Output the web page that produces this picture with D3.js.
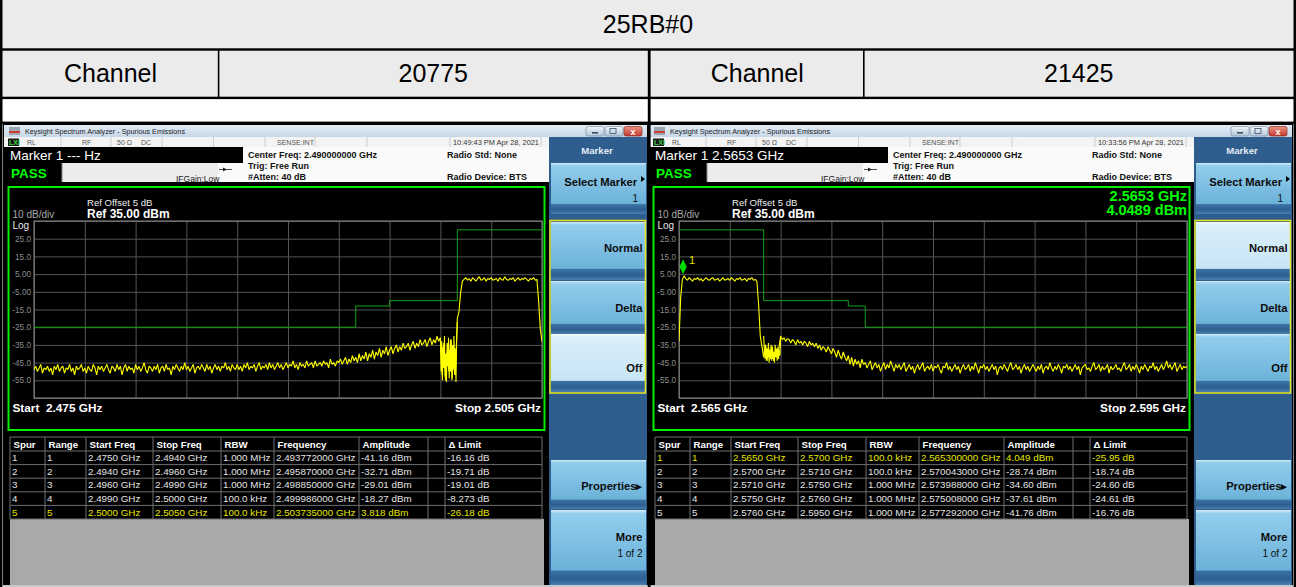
<!DOCTYPE html>
<html><head><meta charset="utf-8">
<script src="https://cdn.jsdelivr.net/npm/d3@7"></script>
<style>
html,body{margin:0;padding:0;background:#fff;}
svg{display:block;font-family:"Liberation Sans",Arial,sans-serif;}
text{white-space:pre;}
</style></head><body>
<svg id="c" width="1296" height="587"></svg>
<script>
// ---------------- data ----------------
const tableTitle = "25RB#0";
const channelLabels = ["Channel", "Channel"];
const channelValues = ["20775", "21425"];

const windowTitle = "Keysight Spectrum Analyzer - Spurious Emissions";
const timestamps = ["10:49:43 PM Apr 28, 2021", "10:33:56 PM Apr 28, 2021"];
const markerTexts = ["Marker 1 --- Hz", "Marker 1 2.5653 GHz"];
const infoLeft = ["Center Freq: 2.490000000 GHz", "Trig: Free Run", "#Atten: 40 dB"];
const infoRight = ["Radio Std: None", "", "Radio Device: BTS"];

const leftSpan = [2.475, 2.505];
const rightSpan = [2.565, 2.595];
const startLabels = ["Start  2.475 GHz", "Start  2.565 GHz"];
const stopLabels = ["Stop 2.505 GHz", "Stop 2.595 GHz"];

const yGridValues = [35, 25, 15, 5, -5, -15, -25, -35, -45, -55, -65];
const yTickLabels = ["", "25.0", "15.0", "5.00", "-5.00", "-15.0", "-25.0", "-35.0", "-45.0", "-55.0", ""];

// limit line ranges (GHz) and limits (dBm)
const leftLimitStart = [2.475, 2.494, 2.496, 2.499, 2.500];
const leftLimitStop  = [2.494, 2.496, 2.499, 2.500, 2.505];
const leftLimitValue = [-25, -13, -10, -10, 30];
const rightLimitStart = [2.565, 2.570, 2.571, 2.575, 2.576];
const rightLimitStop  = [2.570, 2.571, 2.575, 2.576, 2.595];
const rightLimitValue = [30, -10, -10, -13, -25];

// traces (dBm), 0.1 MHz per point across the span
const leftTrace = [
-49,-47,-50,-48,-46,-51,-48,-49,-47,-50,
-48,-52,-47,-49,-46,-50,-48,-47,-51,-48,
-49,-46,-50,-48,-52,-47,-49,-48,-46,-50,
-48,-51,-47,-49,-50,-46,-48,-52,-47,-49,
-47,-50,-48,-46,-49,-51,-47,-48,-50,-46,
-49,-47,-52,-48,-46,-50,-47,-49,-48,-51,
-46,-49,-47,-50,-48,-45,-49,-51,-47,-48,
-50,-47,-49,-46,-51,-48,-47,-50,-46,-49,
-48,-52,-47,-49,-46,-48,-50,-47,-49,-45,
-49,-47,-50,-48,-46,-51,-48,-47,-49,-46,
-48,-50,-46,-49,-47,-51,-48,-46,-49,-47,
-50,-47,-48,-45,-49,-47,-50,-46,-48,-49,
-46,-49,-47,-50,-46,-48,-45,-49,-47,-48,
-46,-50,-47,-45,-49,-47,-48,-46,-49,-45,
-48,-46,-49,-47,-45,-48,-46,-49,-47,-45,
-48,-46,-47,-44,-48,-46,-49,-45,-47,-46,
-48,-44,-47,-46,-45,-48,-44,-47,-46,-45,
-47,-44,-46,-45,-48,-43,-46,-45,-47,-44,
-45,-43,-46,-44,-42,-46,-43,-45,-41,-44,
-42,-45,-40,-44,-41,-43,-39,-44,-40,-42,
-38,-43,-39,-41,-37,-42,-38,-40,-36,-41,
-38,-36,-40,-37,-35,-39,-36,-38,-34,-37,
-36,-34,-38,-35,-33,-37,-34,-36,-32,-35,
-34,-32,-36,-33,-31,-35,-32,-34,-30,-33,
-31,-52,-34,-55,-38,-50,-32,-54,-36,-47,
-20,-16,-5,1,2,3,1.5,2.5,1,3,
2,1,2.5,3.5,1.5,2,3,1,2.5,2,
3,1.5,2,2.5,1,3,2,1.5,3.5,2,
1.5,2.5,2,3,1,2,3,1.5,2.5,2,
3,2,1,2.5,2,3,1.5,2,-10,-26,
-33];

// finer 100 kHz-RBW sweep segment, 2.4990-2.5000 GHz (0.04 MHz per point)
const leftFineSpan = [2.4990, 2.5000];
const leftFineTrace = [-31,-50,-33,-55,-36,-48,-30,-53,-40,-56,-34,-47,-31,-54,-38,-50,-32,-55,-35,-49,-30,-52,-37,-56,-33,-22];

const rightTrace = [
-33,-8,2,4,2.5,1.5,3,2,1,2.5,
2,3,1.5,2.5,1,2,3,2,1.5,2.5,
3,1.5,2,2.5,1,2,3,1.5,2,2.5,
1.5,3,2,1,2.5,2,3,1.5,2,2.5,
1,2.5,2,3,1.5,2,1,-12,-30,-36,
-42,-35,-44,-37,-43,-36,-44,-38,-42,-37,
-30,-32,-31,-33,-31.5,-32,-34,-32,-33,-35,
-32,-34,-33,-35,-33,-34,-36,-33,-35,-34,
-36,-34,-37,-35,-38,-36,-37,-39,-36,-38,
-40,-37,-39,-42,-38,-41,-43,-39,-42,-44,
-41,-46,-42,-47,-43,-46,-44,-48,-43,-46,
-45,-48,-46,-44,-49,-47,-45,-48,-46,-50,
-47,-45,-49,-46,-48,-44,-47,-50,-46,-48,
-46,-49,-47,-45,-50,-48,-46,-49,-47,-51,
-48,-46,-49,-47,-45,-50,-48,-47,-49,-46,
-50,-47,-48,-46,-49,-51,-47,-48,-45,-49,
-47,-50,-48,-46,-49,-47,-51,-48,-46,-49,
-48,-46,-50,-47,-49,-45,-48,-51,-47,-48,
-46,-49,-47,-50,-48,-46,-49,-47,-52,-48,
-47,-49,-46,-48,-50,-47,-45,-49,-48,-46,
-49,-47,-51,-48,-46,-49,-47,-50,-48,-46,
-48,-50,-47,-49,-46,-51,-48,-47,-49,-45,
-48,-50,-47,-49,-46,-48,-51,-47,-48,-46,
-49,-47,-50,-48,-46,-49,-47,-52,-48,-47,
-46,-49,-48,-50,-47,-45,-49,-48,-46,-50,
-47,-49,-48,-46,-51,-47,-49,-48,-46,-49,
-48,-50,-47,-45,-49,-48,-46,-50,-47,-49,
-46,-48,-51,-47,-49,-46,-48,-50,-47,-48,
-45,-49,-47,-50,-48,-46,-49,-47,-44,-48,
-46,-49,-47,-45,-50,-48,-46,-49,-47,-48,
-47];

// finer 100 kHz-RBW sweep segment, 2.5700-2.5710 GHz (0.04 MHz per point)
const rightFineSpan = [2.5700, 2.5710];
const rightFineTrace = [-30,-38,-43,-35,-44,-37,-42,-34,-45,-38,-41,-35,-44,-36,-43,-39,-45,-35,-42,-37,-44,-36,-43,-38,-41,-31];

const markerFreq = 2.5653;
const markerAmp = 4.049;
const markerReadout = ["2.5653 GHz", "4.0489 dBm"];

const tableHeader = ["Spur", "Range", "Start Freq", "Stop Freq", "RBW", "Frequency", "Amplitude", "", "\u0394 Limit"];
const leftRows = [
  ["1","1","2.4750 GHz","2.4940 GHz","1.000 MHz","2.493772000 GHz","-41.16 dBm","","-16.16 dB"],
  ["2","2","2.4940 GHz","2.4960 GHz","1.000 MHz","2.495870000 GHz","-32.71 dBm","","-19.71 dB"],
  ["3","3","2.4960 GHz","2.4990 GHz","1.000 MHz","2.498850000 GHz","-29.01 dBm","","-19.01 dB"],
  ["4","4","2.4990 GHz","2.5000 GHz","100.0 kHz","2.499986000 GHz","-18.27 dBm","","-8.273 dB"],
  ["5","5","2.5000 GHz","2.5050 GHz","100.0 kHz","2.503735000 GHz","3.818 dBm","","-26.18 dB"]
];
const rightRows = [
  ["1","1","2.5650 GHz","2.5700 GHz","100.0 kHz","2.565300000 GHz","4.049 dBm","","-25.95 dB"],
  ["2","2","2.5700 GHz","2.5710 GHz","100.0 kHz","2.570043000 GHz","-28.74 dBm","","-18.74 dB"],
  ["3","3","2.5710 GHz","2.5750 GHz","1.000 MHz","2.573988000 GHz","-34.60 dBm","","-24.60 dB"],
  ["4","4","2.5750 GHz","2.5760 GHz","1.000 MHz","2.575008000 GHz","-37.61 dBm","","-24.61 dB"],
  ["5","5","2.5760 GHz","2.5950 GHz","1.000 MHz","2.577292000 GHz","-41.76 dBm","","-16.76 dB"]
];

// ---------------- drawing ----------------
const W = 1296, H = 587;
const svg = d3.select("#c");
const defs = svg.append("defs");
function grad(id, stops) {
  const g = defs.append("linearGradient").attr("id", id).attr("x1", 0).attr("y1", 0).attr("x2", 0).attr("y2", 1);
  stops.forEach(([o, c]) => g.append("stop").attr("offset", o).attr("stop-color", c));
}
grad("gTitle", [[0, "#e2ecf5"], [1, "#c6d7e8"]]);
grad("gBtn", [[0, "#d4edf9"], [0.05, "#92cdeb"], [0.45, "#7ebfe3"], [0.8, "#6cb2d9"], [0.815, "#3c72a4"], [0.92, "#2d5e90"], [1, "#4a7fb0"]]);
grad("gBtnH", [[0, "#f7fcff"], [0.05, "#daeffa"], [0.8, "#c7e5f6"], [0.815, "#3c72a4"], [0.92, "#2d5e90"], [1, "#4a7fb0"]]);
grad("gWinBtn", [[0, "#f0f5fa"], [1, "#b4c6d8"]]);
grad("gClose", [[0, "#ec9286"], [1, "#c33a2c"]]);

// top table
svg.append("rect").attr("x", 0).attr("y", 0).attr("width", W).attr("height", 98).attr("fill", "#ebebeb");
svg.append("rect").attr("x", 0).attr("y", 98).attr("width", W).attr("height", 24).attr("fill", "#ffffff");

svg.append("text").attr("x", 648).attr("y", 33).attr("text-anchor", "middle")
  .attr("font-size", 25).attr("fill", "#000").text(tableTitle);
const chCells = [[2.5, 218.5], [218.5, 648], [650.5, 864], [864, 1293.5]];
const chTexts = [channelLabels[0], channelValues[0], channelLabels[1], channelValues[1]];
chCells.forEach((c, i) => {
  svg.append("text").attr("x", (c[0] + c[1]) / 2).attr("y", 82).attr("text-anchor", "middle")
    .attr("font-size", 25).attr("fill", "#000").text(chTexts[i]);
});

// ---------------- screen drawing ----------------
function drawScreen(ox, cfg) {
  const g = svg.append("g");
  g.append("rect").attr("x", ox + 3).attr("y", 124).attr("width", 645).attr("height", 463).attr("fill", "#000");
  g.append("rect").attr("x", ox + 4).attr("y", 125).attr("width", 643).attr("height", 12).attr("fill", "url(#gTitle)");
  g.append("rect").attr("x", ox + 9).attr("y", 127).attr("width", 11).attr("height", 8).attr("fill", "#9aa6b2");
  g.append("rect").attr("x", ox + 9).attr("y", 131).attr("width", 11).attr("height", 2).attr("fill", "#d03a30");
  g.append("text").attr("x", ox + 25).attr("y", 134.3).attr("font-size", 7.6).attr("fill", "#1b1b1b")
    .attr("textLength", 160).attr("lengthAdjust", "spacingAndGlyphs").text(windowTitle);
  [[586, "gWinBtn"], [605, "gWinBtn"], [624, "gClose"]].forEach(([bx, f], i) => {
    g.append("rect").attr("x", ox + bx).attr("y", 126.5).attr("width", 18).attr("height", 9.5).attr("rx", 2)
      .attr("fill", `url(#${f})`).attr("stroke", i === 2 ? "#8a2a20" : "#7990a8").attr("stroke-width", 0.7);
  });
  g.append("rect").attr("x", ox + 592).attr("y", 132).attr("width", 6).attr("height", 1.6).attr("fill", "#33506e");
  g.append("rect").attr("x", ox + 610).attr("y", 128.5).attr("width", 6).attr("height", 5).attr("fill", "none").attr("stroke", "#33506e").attr("stroke-width", 0.8);
  g.append("text").attr("x", ox + 633).attr("y", 134.5).attr("text-anchor", "middle").attr("font-size", 9).attr("font-weight", "bold").attr("fill", "#fff").text("x");

  // status bar
  g.append("rect").attr("x", ox + 4).attr("y", 137).attr("width", 545).attr("height", 10).attr("fill", "#f3f3f3");
  [61, 111, 162, 213.5, 265, 315, 367, 450, 541].forEach(d => {
    g.append("line").attr("x1", ox + d).attr("x2", ox + d).attr("y1", 137).attr("y2", 147).attr("stroke", "#c4c4c4").attr("stroke-width", 0.8);
  });
  g.append("rect").attr("x", ox + 8).attr("y", 138.5).attr("width", 11).attr("height", 7.5).attr("fill", "#1a1a1a");
  g.append("text").attr("x", ox + 9).attr("y", 145).attr("font-size", 7).attr("font-weight", "bold").attr("fill", "#3bd23b").text("LXI");
  [["RL", 27], ["RF", 82], ["50 \u03a9", 117], ["DC", 141], ["SENSE:INT", 277]].forEach(([t, x]) => {
    g.append("text").attr("x", ox + x).attr("y", 145).attr("font-size", 7).attr("fill", "#555").text(t);
  });
  g.append("text").attr("x", ox + 453).attr("y", 145).attr("font-size", 7.6).attr("fill", "#333")
    .attr("textLength", 86).attr("lengthAdjust", "spacingAndGlyphs").text(cfg.timestamp);

  // info areas
  g.append("rect").attr("x", ox + 243).attr("y", 147).attr("width", 306).attr("height", 35).attr("fill", "#fafafa");
  g.append("rect").attr("x", ox + 218).attr("y", 163).attr("width", 30).attr("height", 19).attr("fill", "#fafafa");
  g.append("rect").attr("x", ox + 62).attr("y", 163).attr("width", 156).attr("height", 19).attr("fill", "#ececec");
  g.append("line").attr("x1", ox + 62).attr("x2", ox + 62).attr("y1", 163).attr("y2", 182).attr("stroke", "#888");
  g.append("text").attr("x", ox + 10).attr("y", 160).attr("font-size", 13.5).attr("fill", "#fff").text(cfg.marker);
  g.append("text").attr("x", ox + 11).attr("y", 177.5).attr("font-size", 13.5).attr("font-weight", "bold").attr("fill", "#00ff00").text("PASS");
  g.append("text").attr("x", ox + 176).attr("y", 182).attr("font-size", 8.5).attr("fill", "#222").text("IFGain:Low");
  g.append("line").attr("x1", ox + 219).attr("x2", ox + 232).attr("y1", 169.5).attr("y2", 169.5).attr("stroke", "#222").attr("stroke-width", 0.8);
  g.append("path").attr("d", `M${ox + 223},167.5 L${ox + 227},169.5 L${ox + 223},171.5 Z`).attr("fill", "#222");
  [158, 168.5, 180].forEach((by, i) => {
    g.append("text").attr("x", ox + 248).attr("y", by).attr("font-size", 9).attr("font-weight", "bold").attr("fill", "#111").text(infoLeft[i]);
    if (infoRight[i]) g.append("text").attr("x", ox + 447).attr("y", by).attr("font-size", 9).attr("font-weight", "bold").attr("fill", "#111").text(infoRight[i]);
  });

  // plot frame
  g.append("rect").attr("x", ox + 8.5).attr("y", 187).attr("width", 536).attr("height", 243)
    .attr("fill", "#000").attr("stroke", "#00ee00").attr("stroke-width", 2);

  const x = d3.scaleLinear().domain(cfg.span).range([ox + 34, ox + 542]);
  const y = d3.scaleLinear().domain([-65, 35]).range([398, 221]);

  g.append("text").attr("x", ox + 87).attr("y", 205.5).attr("font-size", 9.6).attr("fill", "#eee").text("Ref Offset 5 dB");
  g.append("text").attr("x", ox + 87).attr("y", 217.5).attr("font-size", 12).attr("font-weight", "bold").attr("fill", "#fff").text("Ref 35.00 dBm");
  g.append("text").attr("x", ox + 12.5).attr("y", 218).attr("font-size", 10).attr("fill", "#a8a8a8").text("10 dB/div");
  g.append("text").attr("x", ox + 12.5).attr("y", 228.5).attr("font-size", 10).attr("fill", "#e6e6e6").text("Log");

  // grid via axes
  const xTicks = d3.range(11).map(i => cfg.span[0] + i * (cfg.span[1] - cfg.span[0]) / 10);
  const xg = g.append("g").attr("transform", "translate(0,398)")
    .call(d3.axisBottom(x).tickValues(xTicks).tickSize(-(398 - 221)).tickFormat(""));
  xg.select(".domain").remove();
  xg.selectAll("line").attr("stroke", "#555").attr("stroke-width", 1);
  const yg = g.append("g").attr("transform", `translate(${ox + 34},0)`)
    .call(d3.axisLeft(y).tickValues(yGridValues).tickSize(-508).tickPadding(3)
      .tickFormat((d, i) => yTickLabels[i]));
  yg.select(".domain").remove();
  yg.selectAll("line").attr("stroke", "#555").attr("stroke-width", 1);
  yg.selectAll("text").attr("font-size", 8.2).attr("fill", "#8e8e8e").attr("font-family", "Liberation Sans, Arial, sans-serif");
  g.append("rect").attr("x", ox + 34).attr("y", 221).attr("width", 508).attr("height", 177)
    .attr("fill", "none").attr("stroke", "#8a8a8a").attr("stroke-width", 1);

  const clipId = "clip" + ox;
  defs.append("clipPath").attr("id", clipId).append("rect")
    .attr("x", ox + 34).attr("y", 219).attr("width", 508).attr("height", 181);
  const pg = g.append("g").attr("clip-path", `url(#${clipId})`);

  // limit line
  const limPts = [];
  cfg.limStart.forEach((s, i) => { limPts.push([s, cfg.limVal[i]]); limPts.push([cfg.limStop[i], cfg.limVal[i]]); });
  pg.append("path").attr("d", d3.line().x(d => x(d[0])).y(d => y(d[1]))(limPts))
    .attr("fill", "none").attr("stroke", "#13a313").attr("stroke-width", 1);

  // trace
  function drawTrace(span, vals) {
    const n = vals.length;
    const step = (span[1] - span[0]) / (n - 1);
    pg.append("path").attr("d", d3.line().x((d, i) => x(span[0] + i * step)).y(d => y(d))(vals))
      .attr("fill", "none").attr("stroke", "#ffff00").attr("stroke-width", 1.1).attr("stroke-linejoin", "bevel");
  }
  drawTrace(cfg.span, cfg.trace);
  drawTrace(cfg.fineSpan, cfg.fineTrace);

  // marker
  if (cfg.marker2) {
    const mx = x(cfg.marker2.f) - 1, my = y(cfg.marker2.a) - 1.5;
    g.append("path").attr("d", `M${mx},${my} L${mx - 3.6},${my - 7.5} L${mx},${my - 15} L${mx + 3.6},${my - 7.5} Z`).attr("fill", "#00e000");
    g.append("text").attr("x", mx + 6).attr("y", my - 10).attr("font-size", 11).attr("fill", "#e6e600").text("1");
    g.append("text").attr("x", ox + 542).attr("y", 201).attr("text-anchor", "end").attr("font-size", 14.5).attr("font-weight", "bold").attr("fill", "#00ff00").text(markerReadout[0]);
    g.append("text").attr("x", ox + 542).attr("y", 214.5).attr("text-anchor", "end").attr("font-size", 14.5).attr("font-weight", "bold").attr("fill", "#00ff00").text(markerReadout[1]);
  }

  g.append("text").attr("x", ox + 12.5).attr("y", 411.5).attr("font-size", 11.8).attr("font-weight", "bold").attr("fill", "#fff").text(cfg.startLabel);
  g.append("text").attr("x", ox + 541).attr("y", 411.5).attr("text-anchor", "end").attr("font-size", 11.8).attr("font-weight", "bold").attr("fill", "#fff").text(cfg.stopLabel);

  // spur table
  const cols = [10, 45, 86, 153, 221, 274, 359, 428, 445, 542];
  const rowTops = [437, 451, 464.6, 478.2, 491.8, 505.4, 519];
  g.append("rect").attr("x", ox + 10).attr("y", 519).attr("width", 534).attr("height", 66).attr("fill", "#a9a9a9");
  rowTops.forEach(t => {
    g.append("line").attr("x1", ox + 10).attr("x2", ox + 542).attr("y1", t).attr("y2", t).attr("stroke", "#6e6e6e").attr("stroke-width", 1);
  });
  cols.forEach(c => {
    g.append("line").attr("x1", ox + c).attr("x2", ox + c).attr("y1", 437).attr("y2", 519).attr("stroke", "#6e6e6e").attr("stroke-width", 1);
  });
  tableHeader.forEach((h, j) => {
    g.append("text").attr("x", ox + cols[j] + 3.5).attr("y", 447.5).attr("font-size", 9.7).attr("font-weight", "bold").attr("fill", "#fff").text(h);
  });
  cfg.rows.forEach((r, i) => {
    r.forEach((v, j) => {
      g.append("text").attr("x", ox + cols[j] + 2).attr("y", rowTops[i + 1] + 10.2).attr("font-size", 9.8)
        .attr("fill", i === cfg.hiRow ? "#e6e600" : "#e4e4e4").text(v);
    });
  });

  // softkey panel
  g.append("rect").attr("x", ox + 549).attr("y", 137).attr("width", 98).attr("height", 448).attr("fill", "#2e5d8e");
  g.append("text").attr("x", ox + 597).attr("y", 153.5).attr("text-anchor", "middle").attr("font-size", 9.6).attr("font-weight", "bold").attr("fill", "#e3ebf3").text("Marker");
  const keys = [
    { y: 163, h: 51, lines: [["Select Marker", 186, "bold"], ["1", 202, "normal"]], arrow: true },
    { y: 222, h: 58, lines: [["Normal", 252, "bold"]] },
    { y: 281, h: 53, lines: [["Delta", 311.5, "bold"]] },
    { y: 334, h: 58, lines: [["Off", 371.5, "bold"]] },
    { y: 460, h: 49, lines: [["Properties\u25B8", 489.5, "bold"]] },
    { y: 510, h: 75, lines: [["More", 540.5, "bold"], ["1 of 2", 556.5, "normal"]] }
  ];
  keys.forEach((k, i) => {
    const hi = (i === cfg.hiKey);
    g.append("rect").attr("x", ox + 551).attr("y", k.y).attr("width", 95).attr("height", k.h)
      .attr("fill", hi ? "url(#gBtnH)" : "url(#gBtn)");
    k.lines.forEach(([t, by, fw]) => {
      const isOne = (t === "1");
      g.append("text").attr("x", ox + (k.arrow && !isOne ? 637 : (isOne ? 638 : 642.5))).attr("y", by)
        .attr("text-anchor", "end").attr("font-size", fw === "bold" ? 11.2 : 10).attr("font-weight", fw)
        .attr("fill", "#0d0d0d").text(t);
    });
    if (k.arrow) g.append("path").attr("d", `M${ox + 641},${176} L${ox + 645},${179} L${ox + 641},${182} Z`).attr("fill", "#000");
  });
  g.append("rect").attr("x", ox + 550).attr("y", 220.5).attr("width", 95.5).attr("height", 172.5)
    .attr("fill", "none").attr("stroke", "#e8e820").attr("stroke-width", 1.5);
  g.append("rect").attr("x", ox + 3).attr("y", 585).attr("width", 645).attr("height", 2).attr("fill", "#c8c8c8");
}

drawScreen(0, {
  span: leftSpan, trace: leftTrace, fineSpan: leftFineSpan, fineTrace: leftFineTrace,
  limStart: leftLimitStart, limStop: leftLimitStop, limVal: leftLimitValue,
  rows: leftRows, hiRow: 4, hiKey: 3, marker: markerTexts[0], timestamp: timestamps[0],
  startLabel: startLabels[0], stopLabel: stopLabels[0], marker2: null
});
drawScreen(645, {
  span: rightSpan, trace: rightTrace, fineSpan: rightFineSpan, fineTrace: rightFineTrace,
  limStart: rightLimitStart, limStop: rightLimitStop, limVal: rightLimitValue,
  rows: rightRows, hiRow: 0, hiKey: 1, marker: markerTexts[1], timestamp: timestamps[1],
  startLabel: startLabels[1], stopLabel: stopLabels[1], marker2: { f: markerFreq, a: markerAmp }
});

// table borders (on top)
const black = "#000";
[[0, 48.3, W, 2.4], [0, 96.7, W, 2.4], [0, 121.6, W, 2.6]].forEach(([x0, y0, w, h]) =>
  svg.append("rect").attr("x", x0).attr("y", y0).attr("width", w).attr("height", h).attr("fill", black));
svg.append("rect").attr("x", 0).attr("y", 0).attr("width", 2.5).attr("height", H).attr("fill", black);
svg.append("rect").attr("x", 1293.5).attr("y", 0).attr("width", 2.5).attr("height", H).attr("fill", black);
svg.append("rect").attr("x", 647.8).attr("y", 49).attr("width", 2.8).attr("height", H - 49).attr("fill", black);
svg.append("rect").attr("x", 217.8).attr("y", 49).attr("width", 1.6).attr("height", 49).attr("fill", black);
svg.append("rect").attr("x", 863).attr("y", 49).attr("width", 1.6).attr("height", 49).attr("fill", black);
</script>
</body></html>
